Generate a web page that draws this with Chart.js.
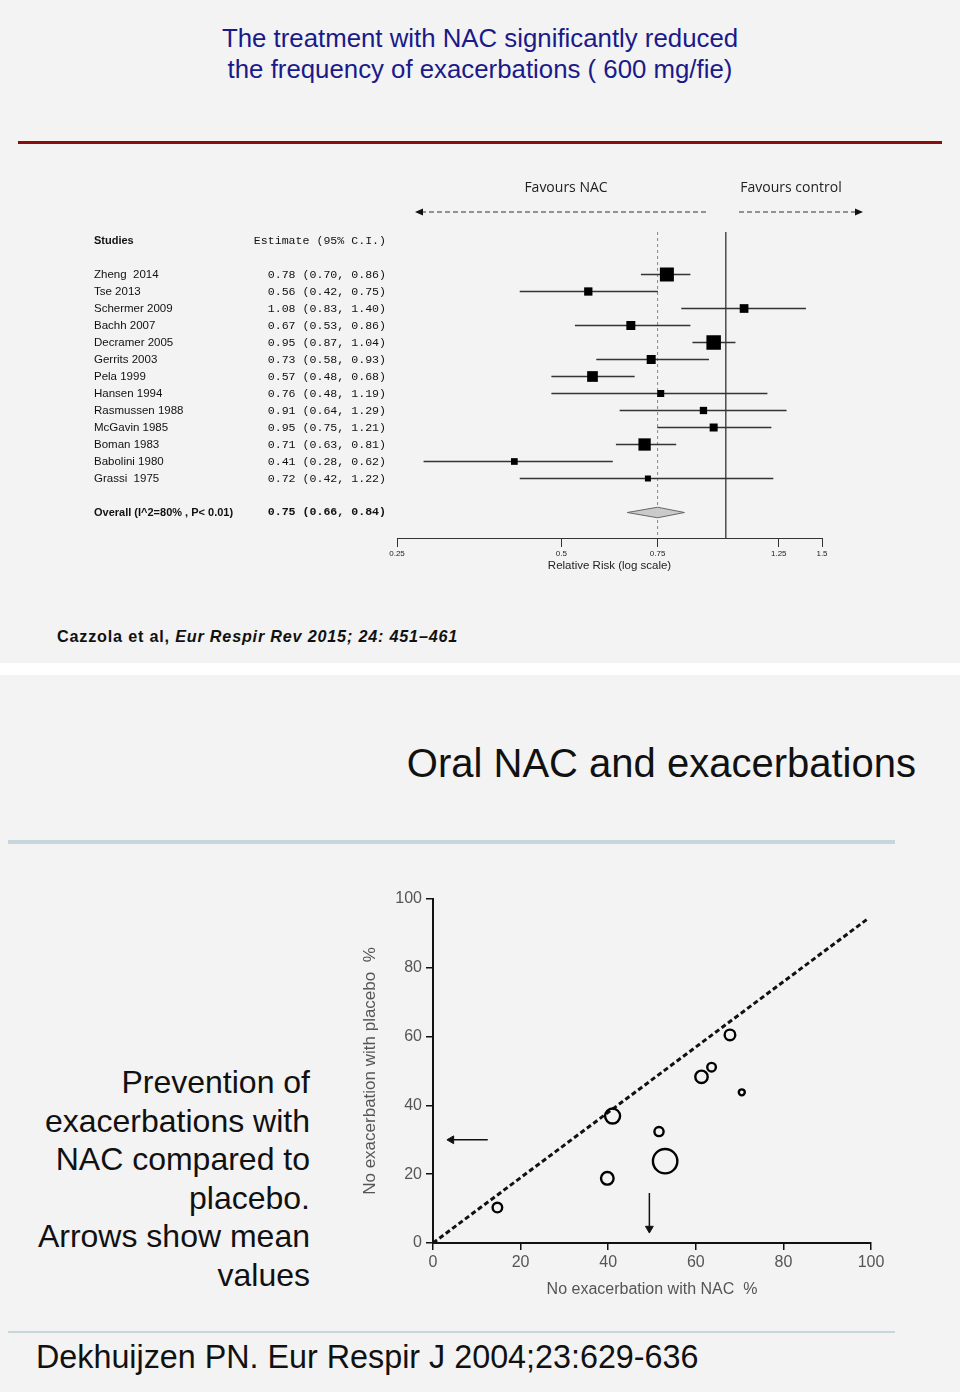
<!DOCTYPE html>
<html>
<head>
<meta charset="utf-8">
<script src="https://cdn.jsdelivr.net/npm/chart.js@4.4.1/dist/chart.umd.min.js"></script>
<style>
  html, body { margin:0; padding:0; }
  body { width:960px; height:1392px; position:relative; overflow:hidden; background:#fff;
         font-family:"Liberation Sans", Arial, sans-serif; }
  .slide { position:absolute; left:0; width:960px; background:#f3f3f3; }
  .abs { position:absolute; white-space:nowrap; }
  canvas { position:absolute; }
</style>
</head>
<body>
<div class="slide" style="top:0;height:663px;"></div>
<div class="slide" style="top:675px;height:717px;"></div>

<div class="abs" style="left:0;top:23px;width:960px;text-align:center;font-size:25.8px;line-height:31px;color:#1a1a8a;">
  The treatment with NAC significantly reduced<br>the frequency of exacerbations ( 600 mg/fie)
</div>
<div class="abs" style="left:18px;top:141px;width:924px;height:3px;background:#8a0c0c;"></div>

<canvas id="forest" width="960" height="440" style="left:0;top:160px;"></canvas>

<div class="abs" style="left:57px;top:626px;font-size:16.2px;line-height:20px;font-weight:bold;letter-spacing:0.8px;color:#111;">
  Cazzola et al, <i>Eur Respir Rev 2015; 24: 451–461</i>
</div>

<div class="abs" style="right:44px;top:740px;font-size:40px;line-height:46px;color:#111;">Oral NAC and exacerbations</div>
<div class="abs" style="left:8px;top:840px;width:887px;height:4px;background:#c6d6db;"></div>

<div class="abs" style="left:0;top:1063px;width:310px;text-align:right;font-size:32px;line-height:38.6px;color:#111;white-space:normal;">
  Prevention of<br>exacerbations with<br>NAC compared to<br>placebo.<br>Arrows show mean<br>values
</div>

<canvas id="scatter" width="570" height="430" style="left:330px;top:880px;"></canvas>

<div class="abs" style="left:8px;top:1331px;width:887px;height:2px;background:#c6d6db;"></div>
<div class="abs" style="left:36px;top:1338px;font-size:32.3px;line-height:38px;color:#111;">Dekhuijzen PN. Eur Respir J 2004;23:629-636</div>

<script>
// ---- forest plot data (Cazzola et al) ----
const studies   = ['Zheng  2014','Tse 2013','Schermer 2009','Bachh 2007','Decramer 2005','Gerrits 2003','Pela 1999',
                   'Hansen 1994','Rasmussen 1988','McGavin 1985','Boman 1983','Babolini 1980','Grassi  1975'];
const estimate  = [0.78, 0.56, 1.08, 0.67, 0.95, 0.73, 0.57, 0.76, 0.91, 0.95, 0.71, 0.41, 0.72];
const ciLow     = [0.70, 0.42, 0.83, 0.53, 0.87, 0.58, 0.48, 0.48, 0.64, 0.75, 0.63, 0.28, 0.42];
const ciHigh    = [0.86, 0.75, 1.40, 0.86, 1.04, 0.93, 0.68, 1.19, 1.29, 1.21, 0.81, 0.62, 1.22];
const overallLabel = 'Overall (I^2=80% , P< 0.01)';
const overallEst  = 0.75;
const overallLow  = 0.66;
const overallHigh = 0.84;
const forestTicks      = [0.25, 0.5, 0.75, 1.25, 1.5];
const forestTickLabels = ['0.25', '0.5', '0.75', '1.25', '1.5'];

// ---- scatter data (Dekhuijzen) ----
const nacPct     = [14.7, 39.8, 41.0, 51.6, 53.0, 61.3, 63.6, 67.8, 70.5];
const placeboPct = [10.3, 18.8, 36.9, 32.4, 23.8, 48.3, 51.1, 60.5, 43.8];
const studySize  = [4.8, 6.3, 7.5, 4.6, 12.2, 6.2, 4.3, 5.3, 3.0];   // bubble radius, px
const diagX = [0, 99];
const diagY = [0, 94];
const meanNac = 49.4;
const meanPlacebo = 30;

// marker squares (px side) – study weights as drawn
const markerSide = [14, 8.3, 8.7, 9, 14.5, 9, 10.7, 7, 7.3, 8, 12.3, 6.7, 6];

Chart.defaults.font.family = '"Liberation Sans", Arial, sans-serif';
Chart.defaults.animation = false;

const headerRow = -2, overallRow = 14;

const forestText = {
  id: 'forestText',
  afterDraw(chart) {
    const {ctx, chartArea, scales: {y}} = chart;
    ctx.save();
    ctx.fillStyle = '#111';
    ctx.textBaseline = 'middle';
    const row = r => y.getPixelForValue(r);

    ctx.textAlign = 'left';
    ctx.font = 'bold 11px "Liberation Sans"';
    ctx.fillText('Studies', 94, row(headerRow));
    ctx.fillText(overallLabel, 94, row(overallRow));
    ctx.font = '11.5px "Liberation Sans"';
    studies.forEach((s, i) => ctx.fillText(s, 94, row(i)));

    ctx.textAlign = 'right';
    ctx.font = '11.6px "Liberation Mono"';
    ctx.fillText('Estimate (95% C.I.)', 386, row(headerRow));
    const fmt = (e, l, h) => `${e.toFixed(2)} (${l.toFixed(2)}, ${h.toFixed(2)})`;
    studies.forEach((s, i) => ctx.fillText(fmt(estimate[i], ciLow[i], ciHigh[i]), 386, row(i)));
    ctx.font = 'bold 11.6px "Liberation Mono"';
    ctx.fillText(fmt(overallEst, overallLow, overallHigh), 386, row(overallRow));

    // favours arrows
    const ay = chartArea.top - 20;
    ctx.strokeStyle = '#333';
    ctx.lineWidth = 1;
    ctx.setLineDash([5, 3]);
    ctx.beginPath();
    ctx.moveTo(421, ay); ctx.lineTo(707, ay);
    ctx.moveTo(739, ay); ctx.lineTo(856, ay);
    ctx.stroke();
    ctx.setLineDash([]);
    ctx.fillStyle = '#111';
    ctx.beginPath();
    ctx.moveTo(415, ay); ctx.lineTo(423, ay - 3.5); ctx.lineTo(423, ay + 3.5); ctx.closePath();
    ctx.moveTo(863, ay); ctx.lineTo(855, ay - 3.5); ctx.lineTo(855, ay + 3.5); ctx.closePath();
    ctx.fill();

    ctx.textAlign = 'center';
    ctx.fillStyle = '#222';
    ctx.font = '14px "Open Sans"';
    ctx.fillText('Favours NAC', 566, chartArea.top - 44);
    ctx.fillText('Favours control', 791, chartArea.top - 44);
    ctx.restore();
  }
};

new Chart(document.getElementById('forest'), {
  type: 'scatter',
  data: {
    datasets: [
      { type:'scatter', data: studies.map((s, i) => ({x: estimate[i], y: i})),
        pointStyle:'rect', pointRadius: markerSide.map(v => v / Math.SQRT2),
        backgroundColor:'#000', borderWidth:0 },
      { type:'line', data: [
          {x: overallLow,  y: overallRow}, {x: overallEst, y: overallRow - 0.31},
          {x: overallHigh, y: overallRow}, {x: overallEst, y: overallRow + 0.31},
          {x: overallLow,  y: overallRow}],
        fill:'shape', backgroundColor:'#cacaca', borderColor:'#666', borderWidth:1, pointRadius:0, tension:0 },
      { type:'bar', indexAxis:'y', data: studies.map((s, i) => ({y: i, x: [ciLow[i], ciHigh[i]]})),
        backgroundColor:'#333', barThickness:1, borderWidth:0 },
      { type:'line', data: [{x: 1, y: -2.5}, {x: 1, y: 15.5}],
        borderColor:'#333', borderWidth:1.3, pointRadius:0 },
      { type:'line', data: [{x: overallEst, y: -2.5}, {x: overallEst, y: 15.5}],
        borderColor:'#888', borderWidth:1, borderDash:[3, 3], pointRadius:0 }
    ]
  },
  options: {
    responsive:false,
    layout: { padding: { left:397, right:138, top:72, bottom:22 } },
    plugins: { legend:{display:false}, tooltip:{enabled:false} },
    scales: {
      x: { type:'logarithmic', min:0.25, max:1.5, offset:false,
           afterBuildTicks: s => { s.ticks = forestTicks.map(v => ({value: v})); },
           afterFit: s => { s.height = 40; },
           ticks: { autoSkip:false, maxRotation:0, padding:2, color:'#222', font:{size:8},
                    callback: (v, i) => forestTickLabels[i] },
           grid: { drawOnChartArea:false, drawTicks:true, tickLength:9, color:'#333', lineWidth:1, offset:false },
           border: { display:true, color:'#333', width:1 },
           title: { display:true, text:'Relative Risk (log scale)', color:'#222', font:{size:11.5},
                    padding:{top:0, bottom:5} } },
      y: { type:'linear', reverse:true, min:-2.5, max:15.5, display:false, offset:false,
           grid:{offset:false} }
    }
  },
  plugins: [forestText]
});

new Chart(document.getElementById('scatter'), {
  type: 'bubble',
  data: {
    datasets: [
      { data: nacPct.map((v, i) => ({x: v, y: placeboPct[i], r: studySize[i]})),
        backgroundColor:'rgba(0,0,0,0)', borderColor:'#000', borderWidth:2.4 },
      { type:'line', data: diagX.map((v, i) => ({x: v, y: diagY[i]})),
        borderColor:'#111', borderWidth:3, borderDash:[5, 3], pointRadius:0 },
      { type:'line', data: [{x: 12.5, y: meanPlacebo}, {x: 4.2, y: meanPlacebo}],
        borderColor:'#111', borderWidth:1.5, pointRadius:[0, 4.5], pointStyle:'triangle',
        pointRotation:-90, backgroundColor:'#111', pointBorderWidth:1 },
      { type:'line', data: [{x: meanNac, y: 14.5}, {x: meanNac, y: 4.2}],
        borderColor:'#111', borderWidth:1.5, pointRadius:[0, 4.5], pointStyle:'triangle',
        pointRotation:180, backgroundColor:'#111', pointBorderWidth:1 }
    ]
  },
  options: {
    responsive:false,
    layout: { padding: { left:30, right:29, top:19, bottom:7 } },
    plugins: { legend:{display:false}, tooltip:{enabled:false} },
    scales: {
      x: { type:'linear', min:0, max:100,
           afterFit: s => { s.height = 60; },
           ticks: { stepSize:20, padding:3, color:'#555', font:{size:16} },
           grid: { drawOnChartArea:false, tickLength:7, color:'#111', lineWidth:1.5 },
           border: { color:'#111', width:2 },
           title: { display:true, text:'No exacerbation with NAC  %', color:'#555', font:{size:16},
                    padding:{top:0, bottom:4} } },
      y: { type:'linear', min:0, max:100,
           afterFit: s => { s.width = 73; },
           ticks: { stepSize:20, padding:4, color:'#555', font:{size:16} },
           grid: { drawOnChartArea:false, tickLength:7, color:'#111', lineWidth:1.5 },
           border: { color:'#111', width:2 },
           title: { display:true, text:'No exacerbation with placebo  %', color:'#555', font:{size:17},
                    padding:{top:0, bottom:0} } }
    }
  }
});
</script>
</body>
</html>
